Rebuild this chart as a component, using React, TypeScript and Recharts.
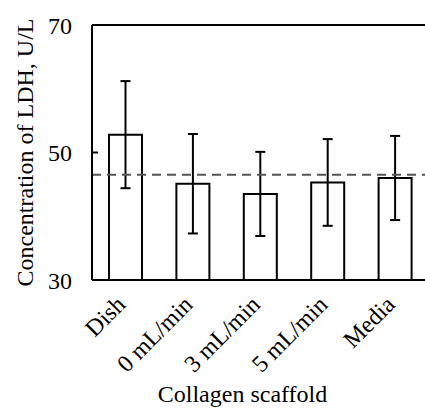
import { BarChart, Bar, XAxis, YAxis, ErrorBar, ReferenceLine, Label } from "recharts";

const categories = ["Dish", "0 mL/min", "3 mL/min", "5 mL/min", "Media"];
const ldhMean = [52.8, 45.1, 43.5, 45.3, 46.0];
const ldhSd = [8.4, 7.8, 6.6, 6.8, 6.6];
const yTicks = [30, 50, 70];
const dashedLevel = 46.5;

const data = categories.map((name, i) => ({
  name,
  ldh: ldhMean[i],
  sd: ldhSd[i],
}));

const FONT = "Liberation Serif";

// rotated category labels, anchored at their end just under the axis
function AngledTick(props: any) {
  const { x, y, payload } = props;
  const ax = x + 1;
  const ay = y + 18;
  return (
    <text
      x={ax}
      y={ay}
      transform={`rotate(-45 ${ax} ${ay})`}
      textAnchor="end"
      fontFamily={FONT}
      fontSize={24}
      fill="#000"
    >
      {payload.value}
    </text>
  );
}

export default function App() {
  return (
    <div
      style={{
        position: "absolute",
        left: 0,
        top: 0,
        width: 425,
        height: 410,
        overflow: "hidden",
        background: "#fff",
      }}
    >
      <BarChart
        width={440}
        height={410}
        data={data}
        margin={{ top: 25, right: 11, left: 0, bottom: 0 }}
        barSize={33}
      >
        <XAxis
          dataKey="name"
          interval={0}
          tickLine={false}
          axisLine={{ stroke: "#000", strokeWidth: 2 }}
          tick={<AngledTick />}
          height={130}
        >
          <Label
            value="Collagen scaffold"
            position="insideBottom"
            offset={8}
            dx={-18}
            style={{ fontFamily: FONT, fontSize: 24, fill: "#000" }}
          />
        </XAxis>
        <YAxis
          domain={[30, 70]}
          ticks={yTicks}
          width={92}
          axisLine={{ stroke: "#000", strokeWidth: 2 }}
          tickLine={{ stroke: "#000", strokeWidth: 2 }}
          tickSize={-6}
          tickMargin={26}
          tick={{ fontFamily: FONT, fontSize: 24, fill: "#000" }}
        >
          <Label
            value="Concentration of LDH, U/L"
            angle={-90}
            position="insideLeft"
            offset={24}
            style={{ fontFamily: FONT, fontSize: 24, fill: "#000", textAnchor: "middle" }}
          />
        </YAxis>
        <ReferenceLine y={70} stroke="#000" strokeWidth={2} />
        <Bar
          dataKey="ldh"
          fill="#fff"
          stroke="#000"
          strokeWidth={2}
          isAnimationActive={false}
        >
          <ErrorBar dataKey="sd" width={5} stroke="#000" strokeWidth={2} />
        </Bar>
        <ReferenceLine
          y={dashedLevel}
          stroke="#555"
          strokeWidth={2}
          strokeDasharray="9 6"
        />
      </BarChart>
    </div>
  );
}
